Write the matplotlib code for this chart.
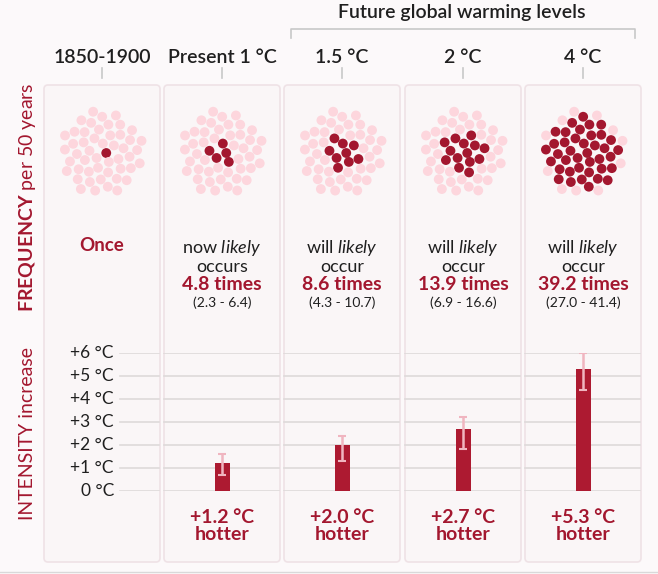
import numpy as np
import matplotlib.pyplot as plt
from matplotlib.patches import FancyBboxPatch

plt.rcParams['font.family'] = ['Lato', 'DejaVu Sans']
plt.rcParams['mathtext.fontset'] = 'custom'
plt.rcParams['mathtext.it'] = 'Lato:italic'
plt.rcParams['mathtext.bf'] = 'Lato:bold'
plt.rcParams['mathtext.rm'] = 'Lato'

# data
levels = ["1850-1900", "Present 1 °C", "1.5 °C", "2 °C", "4 °C"]
freq = [1, 4.8, 8.6, 13.9, 39.2]
freq_lo = [None, 2.3, 4.3, 6.9, 27.0]
freq_hi = [None, 6.4, 10.7, 16.6, 41.4]
verb = ["", "now", "will", "will", "will"]
verb2 = ["", "occurs", "occur", "occur", "occur"]
intensity = [1.2, 2.0, 2.7, 5.3]
int_lo = [0.7, 1.3, 1.8, 4.4]
int_hi = [1.6, 2.4, 3.2, 6.0]
yticks = [0, 1, 2, 3, 4, 5, 6]
n_dots = 50  # one dot per year in 50 years

RED = "#a3172f"
PINK = "#fdd6dd"
INK = "#1f1f1f"

W, H = 658, 574
fig = plt.figure(figsize=(W / 100, H / 100), dpi=100, facecolor="#fcf9fa")
ax = fig.add_axes([0, 0, 1, 1])
ax.set_xlim(0, W)
ax.set_ylim(H, 0)
ax.axis("off")

# panels
panel_x = [44, 164, 284, 405, 525]
panel_w = 116
top, bottom = 85, 562
centers = [x + panel_w / 2 for x in panel_x]
for x in panel_x:
    ax.add_patch(FancyBboxPatch((x, top), panel_w, bottom - top,
                                boxstyle="round,pad=0,rounding_size=4",
                                fc="#faf6f7", ec="#efe2e6", lw=1.2))
ax.axhline(572, color="#d9d9d9", lw=1)

# headers
ax.text(462, 18, "Future global warming levels", ha="center", va="baseline",
        fontsize=14, fontweight="semibold", color=INK)
ax.plot([291, 291, 635, 635], [38, 29, 29, 38], color="#c8c8c8", lw=1.2)
for c, lab in zip(centers, levels):
    ax.text(c, 63, lab, ha="center", va="baseline", fontsize=14,
            fontweight="semibold", color=INK)
    ax.plot([c, c], [68, 78], color="#c8c8c8", lw=1.2)

# side labels
ax.text(33, 197, r"$\mathbf{FREQUENCY}$ per 50 years", rotation=90,
        rotation_mode="anchor", ha="center", va="baseline", fontsize=14, color=RED)
ax.text(33, 433, "INTENSITY increase", rotation=90, rotation_mode="anchor",
        ha="center", va="baseline", fontsize=14, color=RED)

# dot clusters: sunflower packing, centre dots filled first
idx = np.arange(n_dots)
rad = 6.0 * np.sqrt(idx + 0.5)
theta = idx * np.pi * (3 - np.sqrt(5))
px, py = rad * np.cos(theta), rad * np.sin(theta)

for c, f in zip(centers, freq):
    k = int(round(f))
    cols = [RED] * k + [PINK] * (n_dots - k)
    ax.scatter(px + c, py + 153, s=50, c=cols, lw=0, zorder=3)

# frequency text
ax.text(centers[0], 251, "Once", ha="center", va="baseline", fontsize=13.5,
        fontweight="bold", color=RED)
for i in range(1, 5):
    c = centers[i]
    ax.text(c, 253, verb[i] + r" $\mathit{likely}$", ha="center", va="baseline",
            fontsize=13, color=INK)
    ax.text(c, 272, verb2[i], ha="center", va="baseline", fontsize=13, color=INK)
    ax.text(c, 290, f"{freq[i]} times", ha="center", va="baseline", fontsize=14,
            fontweight="bold", color=RED)
    ax.text(c, 307, f"({freq_lo[i]:.1f} - {freq_hi[i]:.1f})", ha="center",
            va="baseline", fontsize=10, color=INK)

# intensity bars
y0, y6 = 490.7, 353.3
bax = fig.add_axes([0, (H - y0) / H, 1, (y0 - y6) / H])
bax.set_xlim(0, W)
bax.set_ylim(0, 6)
bax.axis("off")
bax.patch.set_alpha(0)

for v in yticks:
    for k, x in enumerate(panel_x):
        x0 = 120 if k == 0 else x
        bax.plot([x0, x + panel_w - 1], [v, v], color="#dedada", lw=1.2, zorder=1)
    lab = "0 °C" if v == 0 else f"+{v} °C"
    bax.text(114, v, lab, ha="right", va="center", fontsize=12.5, color=INK)

bx = centers[1:]
bax.bar(bx, intensity, width=15, color="#ad1a31", zorder=2)
err = [np.array(intensity) - np.array(int_lo), np.array(int_hi) - np.array(intensity)]
bax.errorbar(bx, intensity, yerr=err, fmt="none", ecolor="#f0b5c0",
             elinewidth=1.8, capsize=3, capthick=1.5, zorder=3)

for c, v in zip(bx, intensity):
    ax.text(c, 523, f"+{v:.1f} °C", ha="center", va="baseline", fontsize=14,
            fontweight="bold", color=RED)
    ax.text(c, 540, "hotter", ha="center", va="baseline", fontsize=14,
            fontweight="bold", color=RED)

fig.savefig("out.png", dpi=100, facecolor=fig.get_facecolor())
